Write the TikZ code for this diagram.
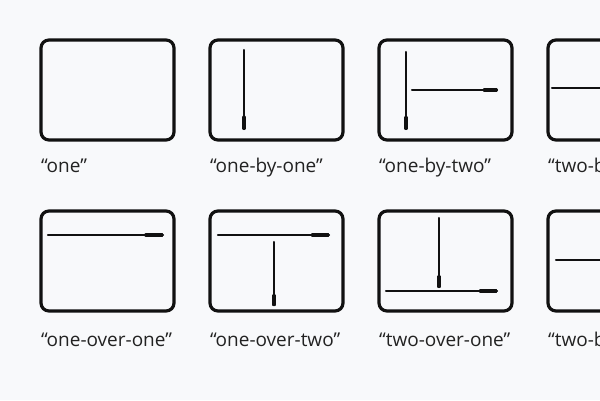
\documentclass[tikz,border=0pt]{standalone}
\usepackage{fontspec}
\setmainfont{Open Sans}
\usetikzlibrary{calc}
\definecolor{bg}{HTML}{F8F9FB}
\definecolor{ink}{HTML}{111111}
\definecolor{txt}{HTML}{222222}
\tikzset{
  frame/.style={draw=ink, line width=3.2pt, rounded corners=8pt},
  lbl/.style={anchor=base west, inner sep=0pt, text=txt, font=\fontsize{19}{23}\selectfont},
  stroke/.style={draw=ink, line cap=round},
}
% tapered stroke: thin at first point, swelling towards the second
\newcommand{\taper}[2]{%
  \draw[stroke, line width=2.1pt] #1 -- #2;
  \foreach \t/\w in {0.62/2.3,0.70/2.5,0.76/2.7,0.81/2.95,0.85/3.2,0.885/3.45,0.915/3.7,0.94/3.9,0.96/4.1}{
    \draw[stroke, line width=\w pt] ($#1!\t!#2$) -- ($#1!0.985!#2$);
  }
}
\begin{document}
\begin{tikzpicture}[x=1pt,y=-1pt]
\useasboundingbox (0,0) rectangle (600,400);
\fill[bg] (0,0) rectangle (600,400);
\clip (0,0) rectangle (600,400);
% row 1
\draw[frame] (41,40) rectangle (174,140);
\node[lbl] (l1) at (41,172) {“one”};
\draw[frame] (210,40) rectangle (343,140);
\taper{(244,50)}{(244,129)}
\node[lbl] (l2) at (210,172) {“one-by-one”};
\draw[frame] (379,40) rectangle (512,140);
\taper{(406,52)}{(406,129)}
\taper{(412,90)}{(497,90)}
\node[lbl] (l3) at (379,172) {“one-by-two”};
\draw[frame] (548,40) rectangle (681,140);
\taper{(552,88)}{(637,88)}
\node[lbl] (l4) at (548,172) {“two-by-one”};
% row 2
\draw[frame] (41,211) rectangle (174,311);
\taper{(48,235)}{(163,235)}
\node[lbl] (l5) at (41,346) {“one-over-one”};
\draw[frame] (210,211) rectangle (343,311);
\taper{(218,235)}{(329,235)}
\taper{(274,242)}{(274,305)}
\node[lbl] (l6) at (210,346) {“one-over-two”};
\draw[frame] (379,211) rectangle (512,311);
\taper{(439,218)}{(439,287)}
\taper{(386,291)}{(497,291)}
\node[lbl] (l7) at (379,346) {“two-over-one”};
\draw[frame] (548,211) rectangle (681,311);
\taper{(556,260)}{(641,260)}
\node[lbl] (l8) at (548,346) {“two-by-two”};
\end{tikzpicture}
\end{document}
